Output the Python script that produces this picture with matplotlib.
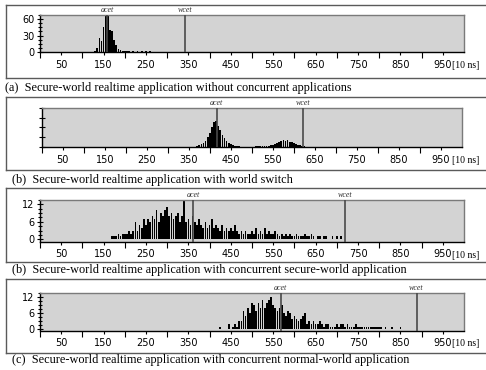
import matplotlib
matplotlib.use("Agg")
import matplotlib.pyplot as plt
import numpy as np
from matplotlib.ticker import MultipleLocator, FixedLocator, NullFormatter
from matplotlib.lines import Line2D

# 画像サイズ（ピクセル）
W, H = 486, 370

# ヒストグラムのビン幅 [10 ns]
bin_width = 5

# (a) ワールド切替なし
a_start = 130
a_counts = [2, 8, 25, 20, 45, 67, 67, 40, 38, 22, 12, 6, 3, 2, 1, 1, 1, 0,
            1, 0, 1, 0, 1, 0, 1, 0, 1]
a_acet, a_wcet = 158, 342

# (b) ワールド切替あり
b_start = 370
b_counts = [1, 2, 3, 4, 6, 10, 14, 20, 26, 27, 22, 17, 12, 9, 6, 4, 3, 2, 1,
            1, 1, 0, 0, 0, 0, 0, 0, 0, 1, 1, 1, 1, 1, 1, 1, 2, 2, 3, 4, 5, 6,
            7, 6, 7, 5, 5, 4, 3, 2, 2, 1, 1]
b_acet, b_wcet = 416, 621

# (b) セキュアワールドの並行アプリあり
c_start = 170
c_counts = [1, 1, 1, 2, 1, 2, 2, 2, 3, 2, 3, 6, 3, 5, 4, 7, 5, 7, 6, 8, 7,
            10, 6, 9, 8, 10, 11, 8, 9, 7, 8, 9, 6, 8, 13, 6, 7, 5, 8, 6, 5,
            7, 5, 4, 6, 4, 5, 7, 4, 5, 4, 3, 5, 3, 4, 3, 4, 3, 5, 3, 2, 3,
            2, 3, 2, 2, 3, 2, 4, 2, 3, 2, 4, 2, 3, 2, 2, 3, 2, 1, 2, 1, 2,
            1, 2, 1, 1, 2, 1, 1, 1, 2, 1, 1, 2, 1, 0, 1, 1, 0, 1, 1, 0, 0,
            1, 0, 1, 0, 1, 0]
c_acet, c_wcet = 361, 719

# (c) ノーマルワールドの並行アプリあり
d_start = 425
d_counts = [1, 0, 0, 0, 2, 0, 1, 2, 1, 3, 3, 7, 5, 8, 6, 10, 9, 7, 10, 8,
            11, 8, 10, 11, 12, 9, 8, 7, 8, 9, 6, 5, 7, 6, 4, 5, 4, 3, 4, 5,
            6, 2, 3, 2, 3, 2, 2, 3, 2, 1, 2, 2, 1, 1, 1, 2, 1, 2, 2, 1, 2,
            1, 1, 1, 2, 1, 1, 1, 1, 1, 1, 1, 1, 1, 1, 1, 1, 0, 1, 0, 0, 1,
            0, 0, 0, 1, 0, 0, 0]
d_acet, d_wcet = 568, 888

captions = [
    "(a)  Secure-world realtime application without concurrent applications",
    "(b)  Secure-world realtime application with world switch",
    "(b)  Secure-world realtime application with concurrent secure-world application",
    "(c)  Secure-world realtime application with concurrent normal-world application",
]

x_labels = [str(v) for v in range(50, 1000, 100)]

serif = ["Liberation Serif", "DejaVu Serif"]
face = "#d3d3d3"
edge = "#7a7a7a"
marker_color = "#4a4a4a"
box_color = "#5a5a5a"


def fx(px):
    return px / W


def fy(py):
    return 1 - py / H


fig = plt.figure(figsize=(W / 100, H / 100), dpi=100)


def make_axes(left, top, right, bottom):
    ax = fig.add_axes([fx(left), fy(bottom), fx(right - left), (bottom - top) / H])
    ax.set_facecolor(face)
    for side in ("top", "right"):
        ax.spines[side].set_color(edge)
        ax.spines[side].set_linewidth(1.0)
    for side in ("left", "bottom"):
        ax.spines[side].set_color("black")
        ax.spines[side].set_linewidth(1.0)
    ax.set_xlim(0, 1000)
    # x 軸: 100 ごとに長い目盛り、50 ごとにラベル
    ax.xaxis.set_major_locator(FixedLocator(range(50, 1000, 100)))
    ax.xaxis.set_ticklabels(x_labels)
    ax.xaxis.set_minor_locator(FixedLocator(range(0, 1000, 100)))
    ax.tick_params(axis="x", which="major", direction="out", length=2,
                   width=0.8, pad=3.5, labelsize=7)
    ax.tick_params(axis="x", which="minor", direction="out", length=4,
                   width=0.8)
    ax.tick_params(axis="y", which="both", direction="inout", width=0.8,
                   labelsize=7, pad=1.5)
    ax.tick_params(axis="y", which="major", length=5)
    ax.tick_params(axis="y", which="minor", length=3)
    # 単位ラベル（950 のすぐ右）
    fig.text(fx(452), fy(bottom + 13.5), "[10 ns]", ha="left", va="center",
             fontsize=7, family=serif)
    return ax


def draw_hist(ax, start, counts, acet, wcet):
    xs = start + bin_width * np.arange(len(counts))
    ax.bar(xs, counts, width=bin_width * 0.8, color="black", linewidth=0,
           zorder=2)
    for val, name in ((acet, "acet"), (wcet, "wcet")):
        ax.axvline(val, color=marker_color, linewidth=1.2, zorder=3)
        ax.text(val, 1.03, name, transform=ax.get_xaxis_transform(),
                ha="center", va="bottom", fontsize=5.8, style="italic",
                family=serif, color="#333333")


# パネル (a)
ax1 = make_axes(40, 15, 464, 52)
ax1.set_ylim(0, 67.5)
ax1.yaxis.set_major_locator(MultipleLocator(30))
ax1.yaxis.set_minor_locator(MultipleLocator(7.5))
draw_hist(ax1, a_start, a_counts, a_acet, a_wcet)

# パネル (b) ワールド切替
ax2 = make_axes(41.7, 108, 462, 147)
ax2.set_ylim(0, 40)
ax2.yaxis.set_major_locator(MultipleLocator(10))
ax2.yaxis.set_major_formatter(NullFormatter())
draw_hist(ax2, b_start, b_counts, b_acet, b_wcet)

# パネル (b) セキュアワールド並行
ax3 = make_axes(40, 200, 464, 241.7)
ax3.set_ylim(-0.8, 13.5)
ax3.yaxis.set_major_locator(MultipleLocator(6))
ax3.yaxis.set_minor_locator(MultipleLocator(1.5))
draw_hist(ax3, c_start, c_counts, c_acet, c_wcet)

# パネル (c) ノーマルワールド並行
ax4 = make_axes(40, 292.7, 464, 330.5)
ax4.set_ylim(-0.5, 13.7)
ax4.yaxis.set_major_locator(MultipleLocator(6))
ax4.yaxis.set_minor_locator(MultipleLocator(1.5))
draw_hist(ax4, d_start, d_counts, d_acet, d_wcet)

# 各パネルの枠とキャプション
boxes = [(5, 78), (97, 170), (188, 262), (279, 353)]
caption_pos = [(5, 87.5), (11.7, 179.5), (11.7, 270), (11.7, 360)]
for (top, bottom), (cx, cy), cap in zip(boxes, caption_pos, captions):
    for yy in (top, bottom):
        fig.add_artist(Line2D([fx(6), 1.0], [fy(yy), fy(yy)],
                              color=box_color, linewidth=1.0))
    fig.add_artist(Line2D([fx(6), fx(6)], [fy(top), fy(bottom)],
                          color=box_color, linewidth=1.0))
    fig.text(fx(cx), fy(cy), cap, ha="left", va="center", fontsize=8.8,
             family=serif)

fig.savefig("out.png", dpi=100)
